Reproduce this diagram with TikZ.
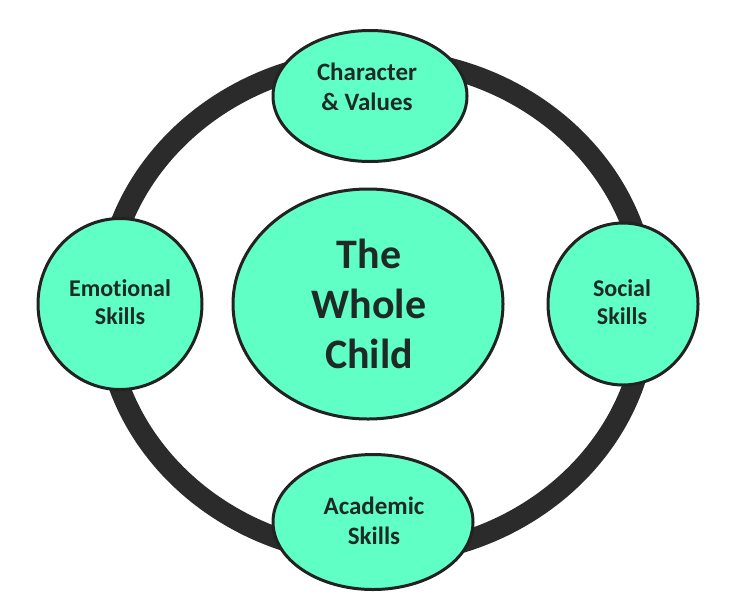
\documentclass[tikz,border=0pt]{standalone}
\usepackage{fontspec}
\setmainfont{Carlito}[Ligatures=NoCommon]
\usetikzlibrary{shapes.geometric}
\definecolor{mint}{HTML}{5FFFC5}
\definecolor{ringcol}{HTML}{2B2B2B}
\definecolor{edgecol}{HTML}{222222}
\definecolor{txtcol}{HTML}{1E2A25}
\begin{document}
\begin{tikzpicture}[x=1pt,y=-1pt,
  bub/.style={ellipse, draw=edgecol, line width=3pt, fill=mint, inner sep=0pt},
  lbl/.style={align=center, text=txtcol, inner sep=0pt, font=\bfseries\fontsize{25}{30}\selectfont},
  biglbl/.style={lbl, font=\bfseries\fontsize{42}{50}\selectfont}]
\useasboundingbox (0,0) rectangle (735,603);
\fill[white] (0,0) rectangle (735,603);
\coordinate (ringc) at (376,307);
\draw[ringcol, line width=21pt] (ringc) ellipse [x radius=271pt, y radius=248pt];
\node[bub, minimum width=270pt, minimum height=230pt] (whole) at (368,304) {};
\node[bub, minimum width=194pt, minimum height=131pt] (char) at (370,96) {};
\node[bub, minimum width=164pt, minimum height=171pt] (emo) at (120,304) {};
\node[bub, minimum width=150pt, minimum height=162pt] (soc) at (623,304) {};
\node[bub, minimum width=200pt, minimum height=135pt] (acad) at (373,522) {};
\node[biglbl] (wholeT) at (369,304) {The\\Whole\\Child};
\node[lbl] (charT) at (367,87) {Character\\\& Values};
\node[lbl, font=\bfseries\fontsize{24}{28}\selectfont] (emoT) at (120,302) {Emotional\\Skills};
\node[lbl, font=\bfseries\fontsize{24}{28}\selectfont] (socT) at (622,302) {Social\\Skills};
\node[lbl] (acadT) at (374,521) {Academic\\Skills};
\end{tikzpicture}
\end{document}
